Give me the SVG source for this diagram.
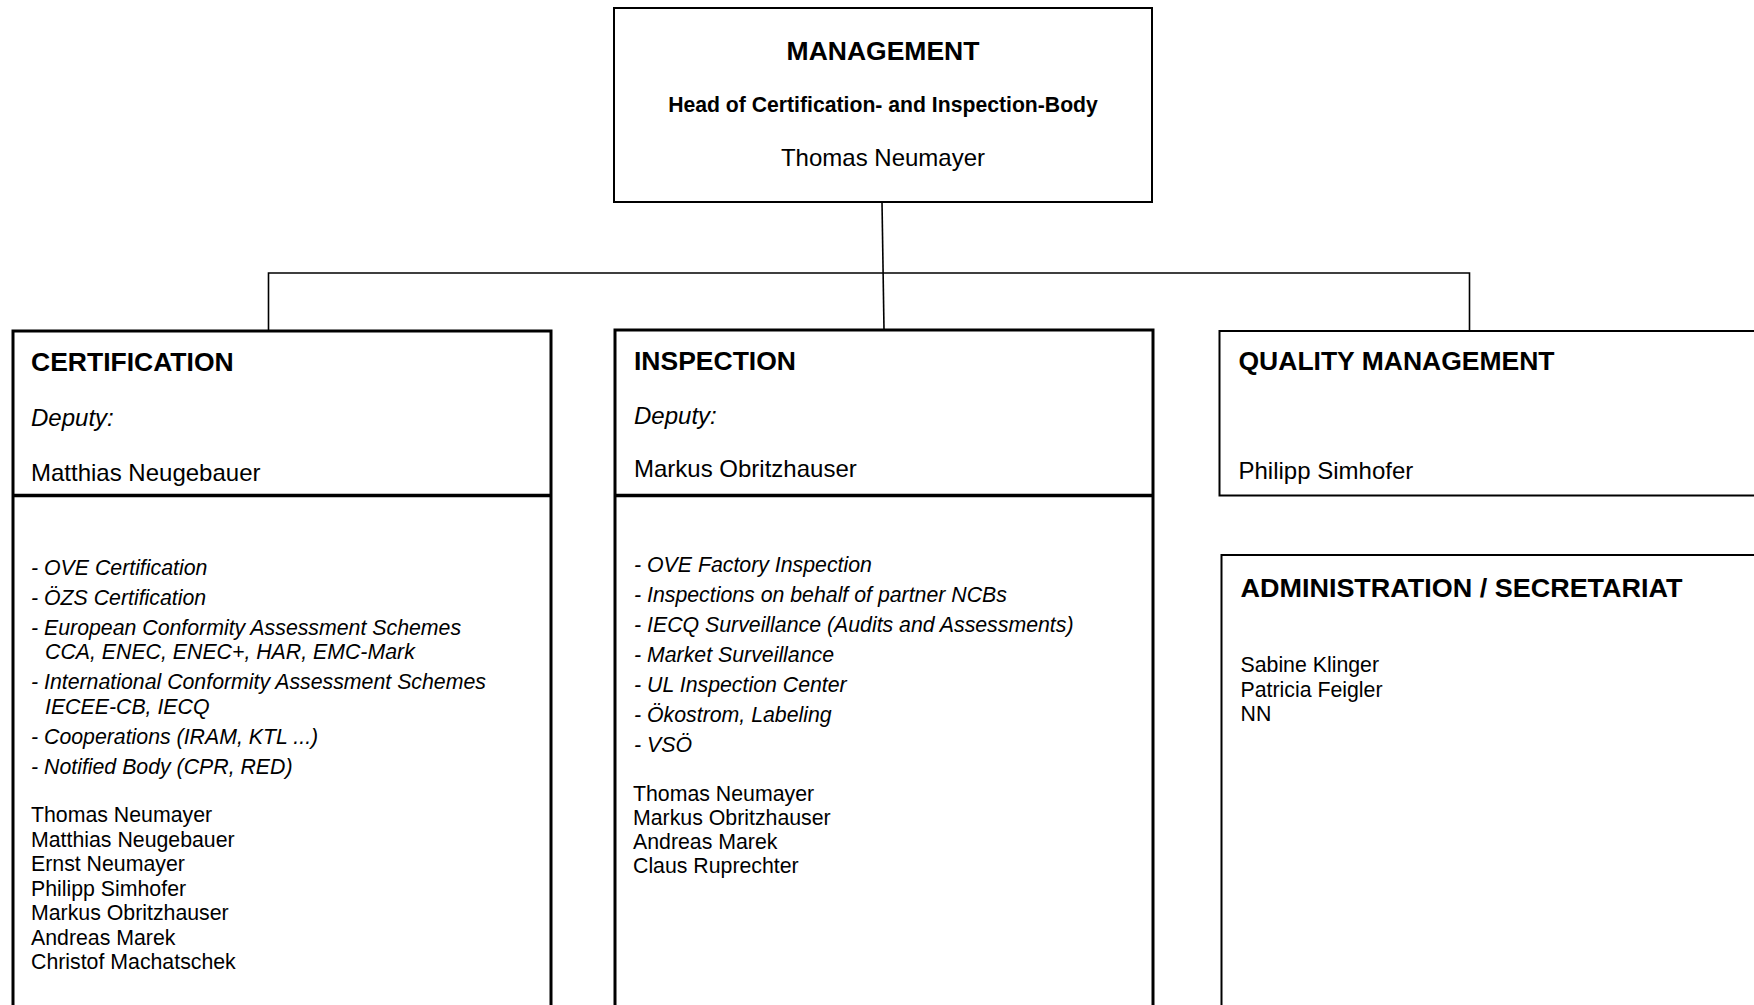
<svg xmlns="http://www.w3.org/2000/svg" width="1754" height="1005" viewBox="0 0 1754 1005">
<style>
.bx{fill:#fff;stroke:#000}
.t{font-family:"Liberation Sans",Arial,sans-serif;fill:#000}
.h{font-size:26.5px;font-weight:bold}
.sub{font-size:21.2px;font-weight:bold}
.n{font-size:24px}
.dep{font-size:24px;font-style:italic}
.li{font-size:21.3px;font-style:italic}
.nm{font-size:21.3px}
.con{fill:none;stroke:#000;stroke-width:1.6}
</style>
<rect width="1754" height="1005" fill="#fff"/>
<g id="connectors">
<path class="con" d="M882 202 L884 330"/>
<path class="con" d="M268.5 331 V273 H1469.5 V331"/>
</g>
<g id="management">
<rect class="bx" x="614" y="8" width="538" height="194" stroke-width="2"/>
<text class="t h" x="883" y="60" text-anchor="middle">MANAGEMENT</text>
<text class="t sub" x="883" y="112" text-anchor="middle">Head of Certification- and Inspection-Body</text>
<text class="t n" x="883" y="166" text-anchor="middle">Thomas Neumayer</text>
</g>
<g id="certification">
<rect class="bx" x="13" y="331" width="538" height="700" stroke-width="3"/>
<line x1="13" y1="495.5" x2="551" y2="495.5" stroke="#000" stroke-width="3.5"/>
<text class="t h" x="31" y="371">CERTIFICATION</text>
<text class="t dep" x="31" y="426">Deputy:</text>
<text class="t n" x="31" y="481">Matthias Neugebauer</text>
<text class="t li" x="31" y="575">- OVE Certification</text>
<text class="t li" x="31" y="605">- ÖZS Certification</text>
<text class="t li" x="31" y="635">- European Conformity Assessment Schemes</text>
<text class="t li" x="45" y="659">CCA, ENEC, ENEC+, HAR, EMC-Mark</text>
<text class="t li" x="31" y="689">- International Conformity Assessment Schemes</text>
<text class="t li" x="45" y="713.5">IECEE-CB, IECQ</text>
<text class="t li" x="31" y="744">- Cooperations (IRAM, KTL ...)</text>
<text class="t li" x="31" y="774">- Notified Body (CPR, RED)</text>
<text class="t nm" x="31" y="822">Thomas Neumayer</text>
<text class="t nm" x="31" y="846.5">Matthias Neugebauer</text>
<text class="t nm" x="31" y="871">Ernst Neumayer</text>
<text class="t nm" x="31" y="895.5">Philipp Simhofer</text>
<text class="t nm" x="31" y="920">Markus Obritzhauser</text>
<text class="t nm" x="31" y="944.5">Andreas Marek</text>
<text class="t nm" x="31" y="969">Christof Machatschek</text>
</g>
<g id="inspection">
<rect class="bx" x="615" y="330" width="538" height="700" stroke-width="3"/>
<line x1="615" y1="495.5" x2="1153" y2="495.5" stroke="#000" stroke-width="3.5"/>
<text class="t h" x="634" y="369.5">INSPECTION</text>
<text class="t dep" x="634" y="424">Deputy:</text>
<text class="t n" x="634" y="477">Markus Obritzhauser</text>
<text class="t li" x="634" y="571.5">- OVE Factory Inspection</text>
<text class="t li" x="634" y="601.5">- Inspections on behalf of partner NCBs</text>
<text class="t li" x="634" y="631.5">- IECQ Surveillance (Audits and Assessments)</text>
<text class="t li" x="634" y="661.5">- Market Surveillance</text>
<text class="t li" x="634" y="691.5">- UL Inspection Center</text>
<text class="t li" x="634" y="721.5">- Ökostrom, Labeling</text>
<text class="t li" x="634" y="751.5">- VSÖ</text>
<text class="t nm" x="633" y="800.5">Thomas Neumayer</text>
<text class="t nm" x="633" y="824.5">Markus Obritzhauser</text>
<text class="t nm" x="633" y="848.5">Andreas Marek</text>
<text class="t nm" x="633" y="873">Claus Ruprechter</text>
</g>
<g id="quality-management">
<rect class="bx" x="1219.5" y="331" width="560" height="164.5" stroke-width="2"/>
<text class="t h" x="1238.5" y="370">QUALITY MANAGEMENT</text>
<text class="t n" x="1238.5" y="479">Philipp Simhofer</text>
</g>
<g id="administration">
<rect class="bx" x="1221.5" y="555" width="560" height="500" stroke-width="2"/>
<text class="t h" x="1240.5" y="597" textLength="442" lengthAdjust="spacingAndGlyphs">ADMINISTRATION / SECRETARIAT</text>
<text class="t nm" x="1240.5" y="672">Sabine Klinger</text>
<text class="t nm" x="1240.5" y="696.5">Patricia Feigler</text>
<text class="t nm" x="1240.5" y="721">NN</text>
</g>
</svg>
